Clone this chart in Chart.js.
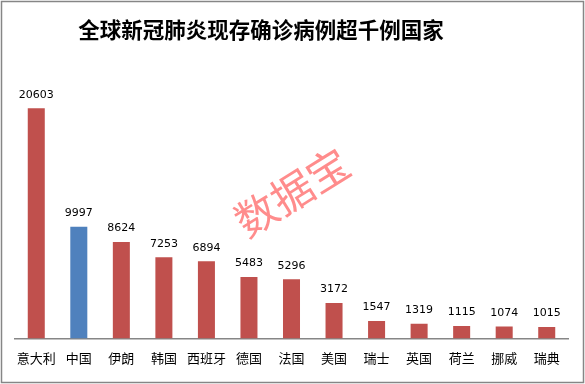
<!DOCTYPE html>
<html><head><meta charset="utf-8">
<script src="https://cdn.jsdelivr.net/npm/chart.js@4/dist/chart.umd.min.js"></script>
<style>html,body{margin:0;padding:0;background:#fff;}#wrap{width:585px;height:384px;position:relative;}</style>
</head><body><div id="wrap"><canvas id="c" width="585" height="384"></canvas></div>
<script>
const titleText = "全球新冠肺炎现存确诊病例超千例国家";
const countries = ["意大利","中国","伊朗","韩国","西班牙","德国","法国","美国","瑞士","英国","荷兰","挪威","瑞典"];
const cases = [20603, 9997, 8624, 7253, 6894, 5483, 5296, 3172, 1547, 1319, 1115, 1074, 1015];
const barColors = ["#C0504D","#4F81BD","#C0504D","#C0504D","#C0504D","#C0504D","#C0504D","#C0504D","#C0504D","#C0504D","#C0504D","#C0504D","#C0504D"];
const watermark = "数据宝";

const decor = {
  id: "decor",
  beforeDraw(chart) {
    const ctx = chart.ctx;
    ctx.save();
    ctx.fillStyle = "#fff";
    ctx.fillRect(0, 0, chart.width, chart.height);
    ctx.restore();
  },
  afterDraw(chart) {
    const ctx = chart.ctx;
    ctx.save();
    ctx.strokeStyle = "#868686";
    ctx.lineWidth = 1.5;
    ctx.strokeRect(1.5, 1.5, chart.width - 3, chart.height - 3);
    ctx.fillStyle = "#000";
    ctx.font = "bold 21.5px 'Noto Sans CJK SC'";
    ctx.textAlign = "center";
    ctx.textBaseline = "middle";
    ctx.fillText(titleText, 261, 30);
    const meta = chart.getDatasetMeta(0);
    ctx.font = "11px 'DejaVu Sans', sans-serif";
    ctx.textBaseline = "bottom";
    meta.data.forEach((bar, i) => {
      ctx.fillText(String(cases[i]), bar.x, bar.y - 8);
    });
    ctx.translate(292, 192);
    ctx.rotate(-32 * Math.PI / 180);
    ctx.fillStyle = "rgba(255,120,120,0.85)";
    ctx.font = "42px 'Noto Sans CJK SC'";
    ctx.textBaseline = "middle";
    ctx.fillText(watermark, 0, 0);
    ctx.restore();
  }
};

new Chart(document.getElementById("c"), {
  type: "bar",
  data: {
    labels: countries,
    datasets: [{ data: cases, backgroundColor: barColors, barPercentage: 0.4, categoryPercentage: 1.0 }]
  },
  options: {
    responsive: false,
    animation: false,
    devicePixelRatio: 1,
    layout: { padding: { left: 15, right: 17, top: 59, bottom: 6 } },
    plugins: { legend: { display: false }, tooltip: { enabled: false }, title: { display: false } },
    scales: {
      x: {
        grid: { display: false, drawTicks: false },
        border: { color: "#868686", width: 1.5 },
        ticks: { color: "#000", font: { size: 13, family: "'Noto Sans CJK SC'" }, padding: 12, maxRotation: 0, autoSkip: false }
      },
      y: { display: false, min: 0, max: 25000 }
    }
  },
  plugins: [decor]
});
</script></body></html>
